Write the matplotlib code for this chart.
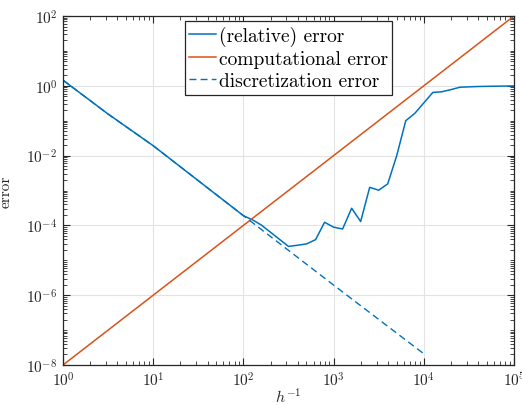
import numpy as np
import matplotlib
matplotlib.use("Agg")
import matplotlib.pyplot as plt
from matplotlib.ticker import LogLocator, FuncFormatter, NullFormatter

plt.rcParams['font.family'] = 'serif'
plt.rcParams['font.serif'] = ['cmr10']
plt.rcParams['mathtext.fontset'] = 'cm'
plt.rcParams['axes.unicode_minus'] = False

# relative error (x = h^-1)
rel_x = [1, 10**0.5, 10, 1e2, 10**2.1, 10**2.2, 10**2.5, 10**2.6, 10**2.7, 10**2.8,
         10**2.9, 1e3, 10**3.1, 10**3.2, 10**3.3, 10**3.4, 10**3.5, 10**3.6, 10**3.7,
         10**3.8, 10**3.9, 10**4.1, 10**4.2, 10**4.3, 10**4.4, 10**4.6, 10**4.8, 1e5]
rel_err = [1.45, 0.155, 0.0192, 1.9e-4, 1.45e-4, 1.02e-4, 2.5e-5, 2.7e-5, 2.95e-5, 3.9e-5,
           1.23e-4, 8.9e-5, 7.9e-5, 3.1e-4, 1.29e-4, 1.23e-3, 1.02e-3, 1.55e-3, 1.0e-2,
           0.10, 0.162, 0.645, 0.676, 0.776, 0.91, 0.955, 0.975, 0.99]

# computational error
comp_x = [1, 1e5]
comp_err = [1e-8, 1e2]

# discretization error
disc_x = [1, 10**0.5, 10, 1e2, 1e3, 1e4]
disc_err = [1.45, 0.155, 0.0192, 1.9e-4, 1.95e-6, 2.1e-8]

blue = '#0072BD'
orange = '#D95319'
axcol = '#262626'

fig = plt.figure(figsize=(5.22, 4.06), dpi=100)
ax = fig.add_axes([63/522, 1 - 366/406, (514 - 63)/522, (366 - 17)/406])

ax.loglog(rel_x, rel_err, color=blue, lw=1.1, label='(relative) error')
ax.loglog(comp_x, comp_err, color=orange, lw=1.1, label='computational error')
ax.loglog(disc_x, disc_err, color=blue, lw=1.0, dashes=(5, 3), label='discretization error')

ax.set_xlim(1, 1e5)
ax.set_ylim(1e-8, 1e2)

fmt = FuncFormatter(lambda v, p: r'$10^{%d}$' % round(np.log10(v)))
ax.xaxis.set_major_locator(LogLocator(base=10, numticks=10))
ax.xaxis.set_minor_locator(LogLocator(base=10, subs=np.arange(2, 10), numticks=20))
ax.xaxis.set_major_formatter(fmt)
ax.xaxis.set_minor_formatter(NullFormatter())
ax.yaxis.set_major_locator(LogLocator(base=100, numticks=10))
ax.yaxis.set_minor_locator(LogLocator(base=10, subs=np.arange(1, 10), numticks=30))
ax.yaxis.set_major_formatter(fmt)
ax.yaxis.set_minor_formatter(NullFormatter())

ax.grid(True, which='major', color='#e3e3e3', lw=0.8)
ax.set_axisbelow(True)
ax.tick_params(which='both', direction='in', top=True, right=True, colors=axcol,
               labelsize=11, pad=4)
ax.tick_params(which='major', length=5, width=0.8)
ax.tick_params(which='minor', length=3, width=0.6)
for s in ax.spines.values():
    s.set_color(axcol)
    s.set_linewidth(0.9)

ax.set_xlabel(r'$h^{-1}$', fontsize=11.5, color=axcol)
ax.xaxis.set_label_coords(0.5, -0.062)
ax.set_ylabel('error', fontsize=11, color=axcol)
ax.yaxis.set_label_coords(-0.112, 0.5)

leg = ax.legend(loc='upper center', bbox_to_anchor=(0.5, 0.985), fontsize=14,
                fancybox=False, framealpha=1, edgecolor=axcol, handlelength=1.35,
                handletextpad=0.15, labelspacing=0.2, borderpad=0.25, borderaxespad=0)
leg.get_frame().set_linewidth(0.9)

fig.savefig('out.png', dpi=100)
